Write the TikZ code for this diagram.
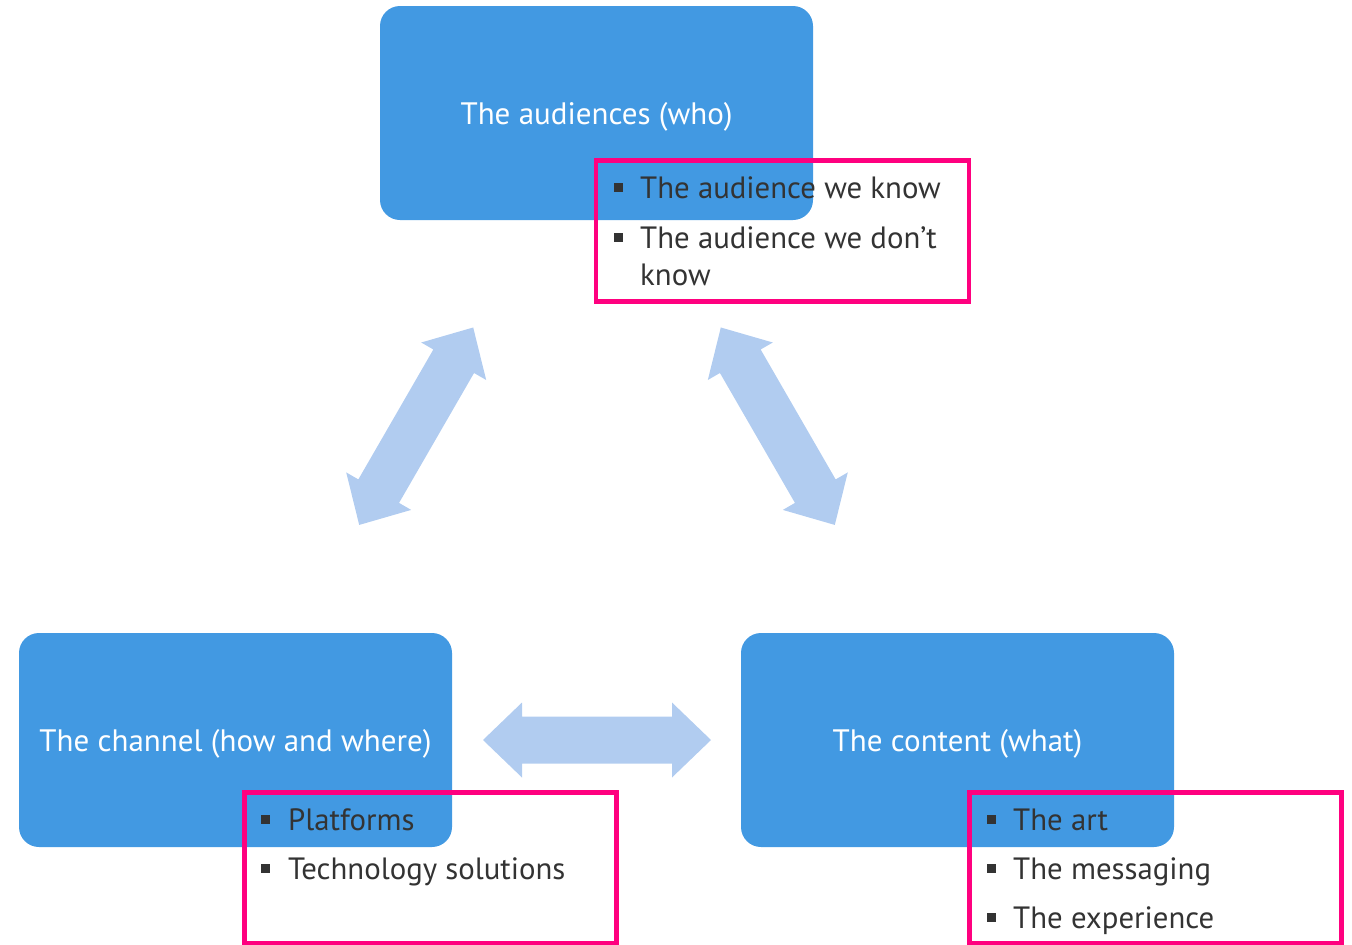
\documentclass[tikz,border=0pt]{standalone}
\usepackage{fontspec}
\setmainfont{PT Sans}
\definecolor{boxblue}{RGB}{66,153,226}
\definecolor{arrowblue}{RGB}{177,204,240}
\definecolor{hotpink}{RGB}{255,0,127}
\definecolor{bullettext}{RGB}{51,51,51}
\newcommand{\dblarrow}[3]{%
  \fill[arrowblue, shift={(#1,#2)}, rotate=#3]
    (-114,0) -- (-75,37.5) -- (-75,23.5) -- (75,23.5) -- (75,37.5) -- (114,0)
    -- (75,-37.5) -- (75,-23.5) -- (-75,-23.5) -- (-75,-37.5) -- cycle;}
\begin{document}
\begin{tikzpicture}[x=1pt,y=-1pt,
  bluebox/.style={rectangle, rounded corners=20pt, fill=boxblue, minimum width=433pt,
    minimum height=214pt, inner sep=0pt},
  titletxt/.style={anchor=base, inner sep=0pt, text=white, font=\fontsize{31}{37}\selectfont},
  pinkbox/.style={rectangle, draw=hotpink, line width=4.5pt, inner sep=0pt},
  bullettxt/.style={anchor=base west, inner sep=0pt, text=bullettext, font=\fontsize{30.8}{37}\selectfont},
  bulletsq/.style={rectangle, fill=bullettext, minimum size=9pt, inner sep=0pt}]
\useasboundingbox (0,0) rectangle (1352,945);
% main boxes
\node[bluebox] (who) at (596.5,113) {};
\node[bluebox] (how) at (235.5,740) {};
\node[bluebox] (what) at (957.5,740) {};
\node[titletxt] (whot) at (596.5,124) {The audiences (who)};
\node[titletxt] (howt) at (235.5,751) {The channel (how and where)};
\node[titletxt] (whatt) at (957.5,751) {The content (what)};
% arrows
\dblarrow{416.2}{426.2}{60}
\dblarrow{777.8}{426.2}{-60}
\dblarrow{597}{740}{0}
% pink frames
\node[pinkbox, minimum width=373pt, minimum height=141pt] (whoframe) at (782.5,231) {};
\node[pinkbox, minimum width=372.4pt, minimum height=150.7pt] (howframe) at (430.5,867.6) {};
\node[pinkbox, minimum width=372.4pt, minimum height=150.7pt] (whatframe) at (1155.5,867.6) {};
% top bullets
\node[bulletsq] (b1) at (618,187) {};
\node[bullettxt] (t1) at (640,198) {The audience we know};
\node[bulletsq] (b2) at (618,237) {};
\node[bullettxt] (t2) at (640,248) {The audience we don’t};
\node[bullettxt] (t3) at (640,285) {know};
% bottom-left bullets
\node[bulletsq] (b4) at (265.7,819) {};
\node[bullettxt] (t4) at (288,830) {Platforms};
\node[bulletsq] (b5) at (265.7,868) {};
\node[bullettxt] (t5) at (288,879) {Technology solutions};
% bottom-right bullets
\node[bulletsq] (b6) at (991,819) {};
\node[bullettxt] (t6) at (1013,830) {The art};
\node[bulletsq] (b7) at (991,868) {};
\node[bullettxt] (t7) at (1013,879) {The messaging};
\node[bulletsq] (b8) at (991,917) {};
\node[bullettxt] (t8) at (1013,928) {The experience};
\end{tikzpicture}
\end{document}
